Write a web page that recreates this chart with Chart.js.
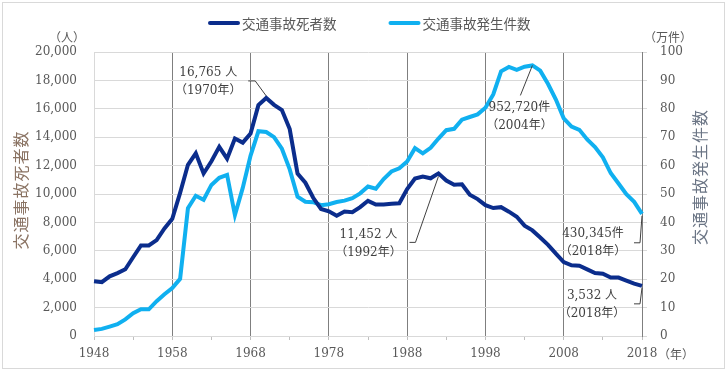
<!DOCTYPE html>
<html>
<head>
<meta charset="utf-8">
<script src="https://cdn.jsdelivr.net/npm/chart.js@4.4.1/dist/chart.umd.min.js"></script>
<style>
body { margin: 0; background: #fff; }
</style>
</head>
<body>
<canvas id="myChart" width="728" height="371"></canvas>
<script>
// categories: 1948 .. 2018
const years = [];
for (let y = 1948; y <= 2018; y++) years.push(String(y));

// 交通事故死者数 (人)
const deaths = [
  3848, 3790, 4202, 4429, 4696, 5544, 6374, 6379, 6751, 7575,
  8248, 10079, 12055, 12865, 11445, 12301, 13318, 12484, 13904, 13618,
  14256, 16257, 16765, 16278, 15918, 14574, 11432, 10792, 9734, 8945,
  8783, 8466, 8760, 8719, 9073, 9520, 9262, 9261, 9317, 9347,
  10344, 11086, 11227, 11109, 11452, 10945, 10653, 10684, 9943, 9642,
  9214, 9012, 9073, 8757, 8396, 7768, 7436, 6937, 6415, 5796,
  5209, 4979, 4948, 4691, 4438, 4388, 4113, 4117, 3904, 3694,
  3532
];

// 交通事故発生件数 (万件)
const accidents = [
  2.13, 2.51, 3.32, 4.14, 5.85, 8.00, 9.39, 9.40, 12.27, 14.68,
  16.88, 20.13, 44.99, 49.37, 47.98, 53.20, 55.72, 56.73, 42.59, 52.15,
  63.51, 72.09, 71.81, 70.03, 65.93, 58.67, 49.05, 47.29, 47.10, 46.06,
  46.40, 47.16, 47.67, 48.56, 50.23, 52.64, 51.86, 55.28, 57.92, 59.07,
  61.45, 66.14, 64.31, 66.24, 69.53, 72.47, 72.95, 76.18, 77.11, 78.04,
  80.39, 85.04, 93.20, 94.73, 93.70, 94.83, 95.272, 93.43, 88.73, 83.27,
  76.64, 73.76, 72.59, 69.21, 66.52, 62.90, 57.38, 53.69, 49.92, 47.22,
  43.0345
];

const deathTicks = [0, 2000, 4000, 6000, 8000, 10000, 12000, 14000, 16000, 18000, 20000];
const accidentTicks = [0, 10, 20, 30, 40, 50, 60, 70, 80, 90, 100];

const darkBlue = '#0b2d8c';
const lightBlue = '#10b0f0';
const serif = '"DejaVu Serif", "Noto Sans CJK JP"';
const sans = '"Noto Sans CJK JP"';

function fmtDeaths(i) { return deaths[i].toLocaleString('en-US') + ' 人'; }
function fmtAccidents(i) { return Math.round(accidents[i] * 10000).toLocaleString('en-US') + '件'; }

// callouts, placed relative to the point they point to
const notes = [
  { axis: 'y', i: years.indexOf('1970'), text: () => [fmtDeaths(22), '（1970年）'], dx: -58, dy: -25, path: [[-18, -17], [-11, -17], [0, -2]] },
  { axis: 'y1', i: years.indexOf('2004'), text: () => [fmtAccidents(56), '（2004年）'], dx: -13, dy: 42, path: [[-12, 30], [0, 0]] },
  { axis: 'y', i: years.indexOf('1992'), text: () => [fmtDeaths(44), '（1992年）'], dx: -70, dy: 61, path: [[-29, 69], [-23, 69], [0, 3]] },
  { axis: 'y1', i: years.indexOf('2018'), text: () => [fmtAccidents(70), '（2018年）'], dx: -49, dy: 20, path: [[-8, 29], [-2, 29], [0, 2]] },
  { axis: 'y', i: years.indexOf('2018'), text: () => [fmtDeaths(70), '（2018年）'], dx: -50, dy: 10, path: [[-8, 18], [-2, 18], [0, 2]] }
];

const extras = {
  id: 'extras',
  afterDraw(chart) {
    const c = chart.ctx;
    const x = chart.scales.x;
    c.save();

    // outer frame
    c.strokeStyle = '#d9d9d9';
    c.lineWidth = 1;
    c.strokeRect(2.5, 2.5, 722, 366);

    // legend
    let lx = 208;
    c.font = '13.5px ' + sans;
    c.textBaseline = 'middle';
    c.textAlign = 'left';
    chart.data.datasets.forEach(ds => {
      c.strokeStyle = ds.borderColor;
      c.lineWidth = 4;
      c.lineCap = 'round';
      c.beginPath();
      c.moveTo(lx + 2, 23);
      c.lineTo(lx + 30, 23);
      c.stroke();
      c.fillStyle = '#595959';
      c.fillText(ds.label, lx + 34, 24);
      lx += 34 + c.measureText(ds.label).width + 52;
    });

    // units
    c.font = '12px ' + sans;
    c.fillStyle = '#595959';
    c.textAlign = 'center';
    c.fillText('（人）', 67, 37);
    c.fillText('（万件）', 668, 37);
    c.fillText('（年）', 676, 354);

    // axis titles
    c.font = '16px ' + sans;
    c.letterSpacing = '1px';
    c.save();
    c.translate(21, 190);
    c.rotate(-Math.PI / 2);
    c.fillStyle = '#8a7363';
    c.fillText('交通事故死者数', 0, 0);
    c.restore();
    c.save();
    c.translate(700, 177);
    c.rotate(-Math.PI / 2);
    c.fillStyle = '#6b7585';
    c.fillText('交通事故発生件数', 0, 0);
    c.restore();
    c.letterSpacing = '0px';

    // callouts
    c.font = '12px ' + serif;
    c.fillStyle = '#404040';
    c.strokeStyle = '#404040';
    c.lineWidth = 1;
    c.lineCap = 'butt';
    notes.forEach(n => {
      const src = n.axis === 'y' ? deaths : accidents;
      const px = x.getPixelForValue(n.i);
      const py = chart.scales[n.axis].getPixelForValue(src[n.i]);
      const lines = n.text();
      c.fillText(lines[0], px + n.dx, py + n.dy);
      c.fillText(lines[1], px + n.dx, py + n.dy + 18);
      c.beginPath();
      n.path.forEach((p, k) => {
        if (k === 0) c.moveTo(px + p[0], py + p[1]);
        else c.lineTo(px + p[0], py + p[1]);
      });
      c.stroke();
    });

    c.restore();
  }
};

const ctx = document.getElementById('myChart');

new Chart(ctx, {
  type: 'line',
  data: {
    labels: years,
    datasets: [{
      label: '交通事故死者数',
      data: deaths,
      yAxisID: 'y',
      borderColor: darkBlue,
      backgroundColor: darkBlue,
      borderWidth: 4,
      pointRadius: 0,
      tension: 0
    }, {
      label: '交通事故発生件数',
      data: accidents,
      yAxisID: 'y1',
      borderColor: lightBlue,
      backgroundColor: lightBlue,
      borderWidth: 4,
      pointRadius: 0,
      tension: 0
    }]
  },
  options: {
    responsive: false,
    devicePixelRatio: 1,
    animation: false,
    layout: { padding: { top: 52, left: 0, right: 0, bottom: 0 } },
    plugins: {
      legend: { display: false },
      tooltip: { enabled: false }
    },
    scales: {
      x: {
        offset: false,
        border: { color: '#d9d9d9' },
        grid: {
          color: c => c.index === 0 ? '#d9d9d9' : (c.index % 10 === 0 ? '#7f7f7f' : 'transparent'),
          tickColor: c => c.index % 5 === 0 ? '#bfbfbf' : 'transparent',
          tickLength: 4
        },
        ticks: {
          autoSkip: false,
          maxRotation: 0,
          padding: 7,
          color: '#595959',
          font: { family: serif, size: 12 },
          callback: (v, i) => i % 10 === 0 ? years[i] : ''
        },
        afterFit: s => { s.height = 35; }
      },
      y: {
        position: 'left',
        min: deathTicks[0],
        max: deathTicks[deathTicks.length - 1],
        border: { color: '#d9d9d9' },
        grid: { color: '#d9d9d9', drawTicks: false },
        afterBuildTicks: s => { s.ticks = deathTicks.map(v => ({ value: v })); },
        ticks: {
          padding: 17,
          color: '#595959',
          font: { family: serif, size: 12 },
          callback: v => v.toLocaleString('en-US')
        },
        afterFit: s => { s.width = 94; }
      },
      y1: {
        position: 'right',
        min: accidentTicks[0],
        max: accidentTicks[accidentTicks.length - 1],
        border: { color: '#7f7f7f' },
        grid: { drawOnChartArea: false, tickLength: 5, tickColor: '#d9d9d9' },
        afterBuildTicks: s => { s.ticks = accidentTicks.map(v => ({ value: v })); },
        ticks: {
          padding: 13,
          color: '#595959',
          font: { family: serif, size: 12 },
          callback: v => String(v)
        },
        afterFit: s => { s.width = 86; }
      }
    }
  },
  plugins: [extras]
});
</script>
</body>
</html>
